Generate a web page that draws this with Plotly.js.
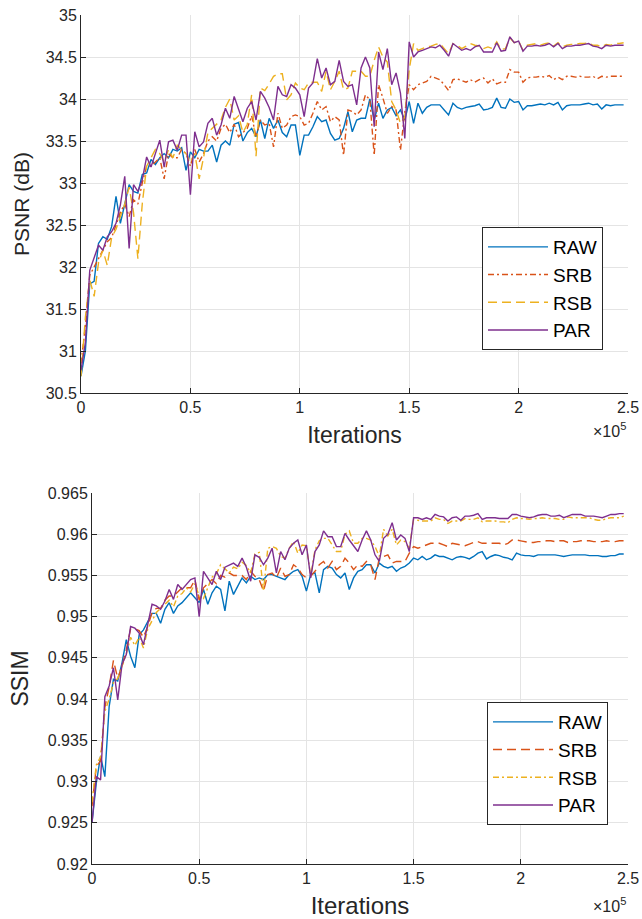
<!DOCTYPE html>
<html>
<head>
<meta charset="utf-8">
<script src="https://cdn.plot.ly/plotly-3.0.1.min.js"></script>
<style>html,body{margin:0;padding:0;background:#fff;}#chart{width:642px;height:919px;}</style>
</head>
<body>
<div id="chart"></div>
<script>
// Training iterations (x values)
const iterations = [0,2000,4000,6000,8000,10000,12000,14000,16000,18000,
20000,22000,24000,26000,28000,30000,32000,34000,36000,38000,
40000,42000,44000,46000,48000,50000,52000,54000,56000,58000,
60000,62000,64000,66000,68000,70000,72000,74000,76000,78000,
80000,82000,84000,86000,88000,90000,92000,94000,96000,98000,
100000,102000,104000,106000,108000,110000,112000,114000,116000,118000,
120000,122000,124000,126000,128000,130000,132000,134000,136000,138000,
140000,142000,144000,146000,148000,150000,152000,154000,156000,158000,
160000,162000,164000,166000,168000,170000,172000,174000,176000,178000,
180000,182000,184000,186000,188000,190000,192000,194000,196000,198000,
200000,202000,204000,206000,208000,210000,212000,214000,216000,218000,
220000,222000,224000,226000,228000,230000,232000,234000,236000,238000,
240000,242000,244000,246000,248000];

const seriesNames = ["RAW","SRB","RSB","PAR"];

// PSNR (dB)
const psnrRAW = [30.7,31.0,31.8,31.83,32.28,32.36,32.33,32.48,32.84,32.52,
32.75,32.98,32.9,32.88,33.1,33.12,33.28,33.22,33.3,33.35,
33.3,33.4,33.38,33.42,33.15,33.37,33.3,33.4,33.38,33.38,
33.45,33.25,33.45,33.5,33.45,33.7,33.72,33.5,33.6,33.65,
33.55,33.75,33.53,33.77,33.65,33.75,33.6,33.55,33.69,33.69,
33.33,33.57,33.57,33.67,33.79,33.73,33.75,33.59,33.51,33.53,
33.65,33.85,33.61,33.75,33.77,33.77,34.0,33.75,33.95,33.77,
33.87,33.9,33.8,33.87,33.75,33.97,33.71,33.95,33.83,33.9,
33.93,33.93,33.93,33.87,33.81,33.95,33.9,33.88,33.9,33.91,
33.92,33.94,33.87,33.88,33.9,34.01,33.9,33.89,34.0,33.96,
33.97,33.87,33.92,33.92,33.93,33.94,33.93,33.95,33.93,33.96,
33.87,33.92,33.93,33.93,33.93,33.94,33.95,33.93,33.94,33.88,
33.93,33.92,33.93,33.93,33.93];
const psnrSRB = [30.85,31.3,31.9,32.0,32.1,32.2,32.3,32.35,32.5,32.65,
32.75,32.6,32.8,32.75,33.0,33.2,33.2,33.25,33.3,33.05,
33.35,33.3,33.3,33.4,33.35,33.2,33.4,33.25,33.35,33.5,
33.55,33.5,33.65,33.7,33.6,33.7,33.55,33.6,33.65,33.8,
33.55,33.75,33.69,33.71,33.43,33.83,33.65,33.69,33.79,33.81,
33.79,33.69,33.71,33.83,33.97,33.87,33.91,33.73,33.79,33.75,
33.33,33.87,33.85,33.81,33.87,34.05,33.99,33.33,34.17,34.01,
33.83,33.91,33.87,33.39,33.85,34.17,34.11,34.17,34.19,34.21,
34.27,34.25,34.23,34.17,34.1,34.23,34.24,34.22,34.2,34.23,
34.2,34.23,34.25,34.19,34.24,34.18,34.2,34.2,34.35,34.32,
34.32,34.2,34.25,34.26,34.26,34.27,34.26,34.28,34.23,34.26,
34.23,34.27,34.27,34.26,34.27,34.26,34.26,34.27,34.24,34.27,
34.26,34.27,34.27,34.27,34.27];
const psnrRSB = [30.7,31.4,31.85,31.65,32.05,32.2,32.02,32.35,32.45,32.6,
32.75,32.95,32.65,32.1,32.75,33.2,33.3,33.4,33.35,33.25,
33.4,33.3,33.45,33.4,33.35,33.25,33.35,33.05,33.3,33.6,
33.65,33.7,33.75,33.9,34.0,33.75,33.8,33.6,33.7,34.05,
33.32,34.13,34.1,34.18,34.27,34.3,34.3,33.99,34.05,34.19,
34.13,34.11,34.19,34.2,34.2,34.09,34.33,34.11,34.21,34.33,
34.11,34.13,34.33,34.33,34.33,34.27,34.27,34.46,34.62,34.5,
34.44,33.97,33.87,33.71,33.79,34.35,34.66,34.58,34.6,34.62,
34.63,34.65,34.66,34.6,34.54,34.66,34.64,34.6,34.63,34.66,
34.64,34.63,34.6,34.62,34.6,34.68,34.59,34.6,34.73,34.67,
34.69,34.58,34.64,34.65,34.66,34.64,34.66,34.67,34.63,34.67,
34.62,34.64,34.65,34.65,34.66,34.66,34.67,34.64,34.64,34.62,
34.65,34.64,34.66,34.66,34.67];
const psnrPAR = [30.77,31.1,31.96,32.12,32.26,32.2,32.36,32.42,32.52,32.74,
33.08,32.22,32.98,32.9,33.04,33.31,33.19,33.35,33.51,33.19,
33.49,33.51,33.39,33.57,33.57,32.86,33.61,33.43,33.49,33.71,
33.77,33.57,33.69,33.89,33.77,34.03,33.87,33.73,33.89,33.97,
33.75,34.09,34.01,33.9,33.75,34.15,34.05,34.03,34.17,34.13,
34.05,33.79,34.13,34.19,34.48,34.25,34.37,34.17,34.21,34.46,
34.21,34.15,34.17,33.93,34.37,34.5,34.37,33.67,34.56,34.35,
34.6,34.17,34.31,34.07,33.53,34.68,34.5,34.56,34.58,34.6,
34.62,34.61,34.64,34.58,34.51,34.66,34.62,34.58,34.6,34.58,
34.62,34.64,34.56,34.56,34.56,34.67,34.57,34.58,34.74,34.67,
34.69,34.57,34.63,34.63,34.64,34.63,34.64,34.66,34.62,34.66,
34.6,34.63,34.63,34.64,34.64,34.65,34.66,34.63,34.62,34.6,
34.64,34.63,34.64,34.64,34.64];

// SSIM
const ssimRAW = [0.925,0.9298,0.9331,0.9306,0.9391,0.9424,0.9422,0.9444,0.9472,0.9452,
0.9438,0.9478,0.9484,0.9494,0.9504,0.9504,0.9492,0.9509,0.9517,0.9504,
0.9513,0.9517,0.9523,0.9529,0.9523,0.9517,0.9533,0.9515,0.9529,0.9537,
0.9533,0.9507,0.9543,0.9527,0.9537,0.9547,0.9541,0.9549,0.9545,0.9547,
0.9545,0.9551,0.9551,0.9549,0.9547,0.9545,0.9551,0.9555,0.9557,0.9549,
0.9531,0.9551,0.9553,0.9529,0.9557,0.9561,0.9559,0.9551,0.9547,0.9553,
0.9533,0.9547,0.9555,0.9557,0.9563,0.9563,0.9553,0.9565,0.9561,0.9559,
0.9561,0.9555,0.9559,0.9561,0.9565,0.9571,0.9569,0.9573,0.9569,0.9571,
0.9575,0.9573,0.9573,0.9571,0.9569,0.9572,0.9573,0.9572,0.957,0.9573,
0.9577,0.9579,0.957,0.9573,0.9575,0.9574,0.9572,0.9571,0.9569,0.9577,
0.9575,0.9574,0.9574,0.9573,0.9575,0.9575,0.9575,0.9575,0.9575,0.9574,
0.9573,0.9574,0.9575,0.9575,0.9575,0.9575,0.9574,0.9574,0.9574,0.9573,
0.9573,0.9574,0.9574,0.9576,0.9576];
const ssimSRB = [0.927,0.9318,0.9325,0.939,0.9415,0.9447,0.9425,0.944,0.946,0.9485,
0.9485,0.9483,0.9475,0.9488,0.9505,0.951,0.951,0.952,0.9525,0.9525,
0.953,0.9535,0.9535,0.9535,0.9545,0.952,0.9535,0.954,0.9545,0.954,
0.955,0.9548,0.9553,0.955,0.955,0.955,0.9545,0.9555,0.9549,0.9545,
0.9531,0.9551,0.9553,0.9547,0.9559,0.9549,0.9551,0.9563,0.9559,0.9551,
0.9547,0.9549,0.9555,0.9563,0.9567,0.9559,0.9567,0.9557,0.9561,0.9571,
0.9565,0.9557,0.9563,0.9561,0.9567,0.9563,0.9545,0.9571,0.9573,0.9575,
0.9565,0.9567,0.9567,0.9567,0.9577,0.9585,0.9583,0.9585,0.9587,0.9589,
0.9589,0.9589,0.9587,0.9585,0.9589,0.9588,0.9587,0.9586,0.9588,0.959,
0.9591,0.9589,0.9589,0.9589,0.9589,0.9589,0.9587,0.9589,0.9593,0.9593,
0.9592,0.9591,0.959,0.959,0.9591,0.9591,0.9592,0.9592,0.9591,0.9592,
0.9592,0.959,0.9591,0.9591,0.9592,0.9592,0.9592,0.9591,0.9591,0.9591,
0.9592,0.9591,0.9591,0.9592,0.9592];
const ssimRSB = [0.9275,0.932,0.933,0.9385,0.94,0.942,0.9425,0.944,0.9455,0.9475,
0.9465,0.9475,0.9462,0.9485,0.9495,0.9505,0.951,0.9515,0.952,0.9512,
0.9525,0.9528,0.9535,0.953,0.954,0.9525,0.9522,0.9535,0.9548,0.9552,
0.9563,0.9558,0.9553,0.956,0.9558,0.9566,0.9562,0.9553,0.9576,0.9578,
0.9531,0.9583,0.9585,0.9583,0.9573,0.9571,0.9583,0.9591,0.9577,0.9587,
0.9586,0.9549,0.9581,0.9592,0.9595,0.9595,0.9587,0.9579,0.9579,0.96,
0.9604,0.9589,0.9589,0.9595,0.9595,0.9593,0.9585,0.9573,0.9606,0.9598,
0.9606,0.9587,0.9593,0.9591,0.9583,0.9618,0.9617,0.9616,0.9616,0.9616,
0.962,0.9618,0.9618,0.9613,0.9616,0.9616,0.9616,0.9619,0.9618,0.9618,
0.962,0.9615,0.9616,0.9616,0.9616,0.9615,0.9615,0.9614,0.9618,0.962,
0.9619,0.9619,0.9618,0.9619,0.9619,0.962,0.9619,0.9619,0.9619,0.9618,
0.9618,0.9621,0.962,0.962,0.962,0.962,0.962,0.9618,0.9617,0.9617,
0.9619,0.962,0.962,0.962,0.9622];
const ssimPAR = [0.925,0.9306,0.9302,0.9403,0.9416,0.9438,0.9399,0.9442,0.9454,0.9488,
0.9486,0.948,0.9466,0.9492,0.9515,0.9513,0.9509,0.9519,0.9533,0.9521,
0.9539,0.9533,0.9539,0.9545,0.9547,0.95,0.9555,0.9547,0.9539,0.9555,
0.9545,0.956,0.9563,0.9565,0.9561,0.9571,0.956,0.9543,0.9575,0.9572,
0.9563,0.9571,0.9583,0.9553,0.9579,0.9569,0.9583,0.9589,0.9593,0.9575,
0.9587,0.9547,0.9579,0.9587,0.9604,0.9597,0.9597,0.9585,0.9585,0.9601,
0.9593,0.9586,0.9579,0.9593,0.9604,0.9593,0.9575,0.9567,0.9595,0.96,
0.9614,0.9593,0.9599,0.9595,0.9579,0.962,0.962,0.9618,0.962,0.9618,
0.9624,0.9622,0.9621,0.9616,0.962,0.9621,0.9617,0.9622,0.9622,0.9623,
0.9625,0.9618,0.962,0.962,0.962,0.9619,0.9619,0.9619,0.9624,0.9624,
0.9622,0.9621,0.962,0.9621,0.9623,0.9624,0.9624,0.9622,0.9622,0.9623,
0.962,0.9622,0.9624,0.9624,0.9624,0.9622,0.9622,0.9622,0.9621,0.962,
0.9622,0.9624,0.9624,0.9625,0.9625];

// Tick labels
const xTickVals = [0,50000,100000,150000,200000,250000];
const xTickText = ["0","0.5","1","1.5","2","2.5"];

const colors = ["#0072BD","#D95319","#EDB120","#7E2F8E"];
const dashTop = ["solid","6px,3px,2px,3px","9px,5px","solid"];
const dashBot = ["solid","9px,5px","6px,3px,2px,3px","solid"];
const psnrSeries = [psnrRAW, psnrSRB, psnrRSB, psnrPAR];
const ssimSeries = [ssimRAW, ssimSRB, ssimRSB, ssimPAR];

const traces = [];
seriesNames.forEach((n,i)=>{
  traces.push({x: iterations, y: psnrSeries[i], name: n, type:"scatter", mode:"lines",
    line:{color: colors[i], width:1.4, dash: dashTop[i]}, xaxis:"x", yaxis:"y", legend:"legend"});
});
seriesNames.forEach((n,i)=>{
  traces.push({x: iterations, y: ssimSeries[i], name: n, type:"scatter", mode:"lines",
    line:{color: colors[i], width:1.4, dash: dashBot[i]}, xaxis:"x2", yaxis:"y2", legend:"legend2"});
});

const W=642, H=919;
const axCommon = {showgrid:true, gridcolor:"#e4e4e4", gridwidth:1, zeroline:false,
  showline:true, linecolor:"#262626", linewidth:1, ticks:"inside", ticklen:5, tickcolor:"#262626",
  tickfont:{size:16, color:"#262626"}, automargin:false};

const layout = {
  width:W, height:H, margin:{l:0,r:0,t:0,b:0}, paper_bgcolor:"#fff", plot_bgcolor:"#fff",
  font:{family:"Liberation Sans, Arial, sans-serif", color:"#262626"},
  xaxis: Object.assign({}, axCommon, {domain:[81/W, 628/W], anchor:"y", range:[0,250000],
    tickmode:"array", tickvals:xTickVals, ticktext:xTickText,
    title:{text:"Iterations", font:{size:23, color:"#262626"}, standoff:11}}),
  yaxis: Object.assign({}, axCommon, {domain:[1-393/H, 1-15/H], anchor:"x", range:[30.5,35], dtick:0.5, tick0:30.5,
    title:{text:"PSNR (dB)", font:{size:21, color:"#262626"}, standoff:10}}),
  xaxis2: Object.assign({}, axCommon, {domain:[92/W, 628/W], anchor:"y2", range:[0,250000],
    tickmode:"array", tickvals:xTickVals, ticktext:xTickText,
    title:{text:"Iterations", font:{size:24, color:"#262626"}, standoff:11}}),
  yaxis2: Object.assign({}, axCommon, {domain:[1-864/H, 1-493/H], anchor:"x2", range:[0.92,0.965], dtick:0.005, tick0:0.92,
    title:{text:"SSIM", font:{size:23, color:"#262626"}, standoff:12}}),
  legend:{x:482/W, y:1-227/H, xanchor:"left", yanchor:"top", bgcolor:"#fff", bordercolor:"#262626", borderwidth:1,
    font:{size:19, color:"#000"}, itemwidth:60, tracegroupgap:0},
  legend2:{x:487/W, y:1-702/H, xanchor:"left", yanchor:"top", bgcolor:"#fff", bordercolor:"#262626", borderwidth:1,
    font:{size:19, color:"#000"}, itemwidth:60, tracegroupgap:0},
  annotations:[
    {xref:"paper", yref:"paper", x:628/W, y:1-430/H, xanchor:"right", yanchor:"middle", showarrow:false,
     text:"×10<sup>5</sup>", font:{size:16, color:"#262626"}},
    {xref:"paper", yref:"paper", x:628/W, y:1-905/H, xanchor:"right", yanchor:"middle", showarrow:false,
     text:"×10<sup>5</sup>", font:{size:16, color:"#262626"}}
  ]
};

Plotly.newPlot("chart", traces, layout, {staticPlot:true, displayModeBar:false});
</script>
</body>
</html>
